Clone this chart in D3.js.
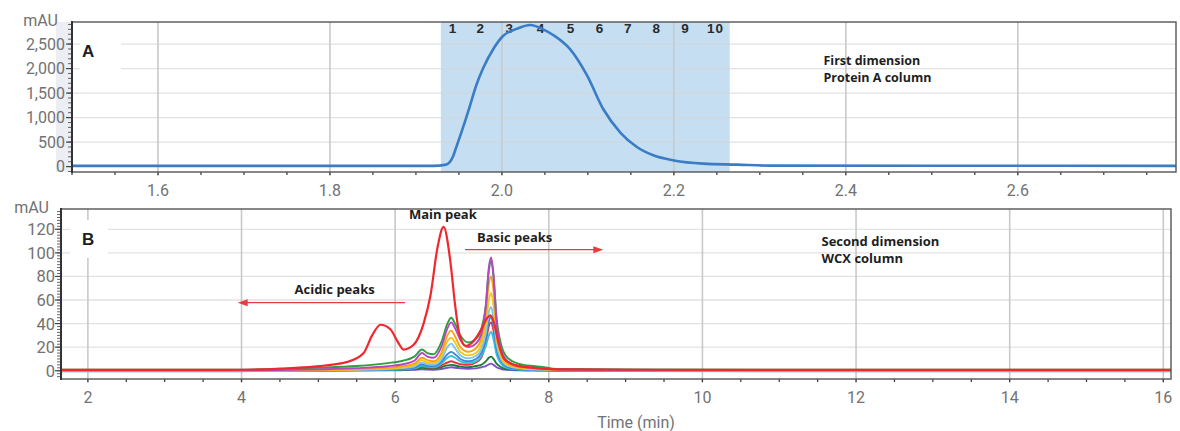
<!DOCTYPE html>
<html>
<head>
<meta charset="utf-8">
<script src="https://cdn.jsdelivr.net/npm/d3@7"></script>
<style>
  body { margin: 0; background: #fff; }
  svg { display: block; }
</style>
</head>
<body>
<div id="chart"></div>
<script>
// ---- Panel A: first dimension (Protein A) ----
const timesA = [1.50, 1.92, 1.935, 1.943, 1.947, 1.955, 1.963, 1.970, 1.978, 1.99, 2.001, 2.017, 2.033, 2.048, 2.06, 2.079, 2.099, 2.118, 2.138, 2.157, 2.176, 2.2, 2.234, 2.274, 2.31, 2.5, 2.784];
const valuesA = [15, 15, 40, 200, 400, 810, 1250, 1650, 2000, 2400, 2660, 2810, 2890, 2800, 2680, 2400, 1860, 1170, 690, 400, 230, 125, 60, 40, 20, 18, 15];
const fractionBand = [1.929, 2.265];
const fractionLabels = ["1", "2", "3", "4", "5", "6", "7", "8", "9", "10"];
const fractionTimes = [1.943, 1.9755, 2.009, 2.0455, 2.0805, 2.114, 2.147, 2.18, 2.2135, 2.2485];
const xTicksA = [1.6, 1.8, 2.0, 2.2, 2.4, 2.6];
const yTicksA = [0, 500, 1000, 1500, 2000, 2500];

// ---- Panel B: second dimension (WCX) ----
const timesMain = [1.65, 3.8, 4.3, 4.5, 4.94, 5.38, 5.59, 5.7, 5.81, 5.94, 6.03, 6.11, 6.24, 6.37, 6.46, 6.55, 6.63, 6.72, 6.78, 6.84, 6.92, 7.02, 7.12, 7.2, 7.24, 7.29, 7.35, 7.42, 7.55, 7.8, 8.1, 10, 16.1];
const valuesMain = [0.8, 0.8, 1.2, 1.8, 3.5, 7.5, 15, 30, 39, 35, 25, 18, 22, 40, 64, 104, 122, 92, 56, 30, 21, 25, 35, 45, 47, 40, 22, 10, 5, 2.5, 1.2, 0.8, 0.8];

const timesB = [1.65, 3.8, 4.5, 5.0, 5.5, 5.9, 6.1, 6.25, 6.35, 6.42, 6.5, 6.6, 6.68, 6.73, 6.78, 6.85, 6.95, 7.05, 7.12, 7.18, 7.22, 7.25, 7.28, 7.32, 7.38, 7.45, 7.6, 7.8, 7.9, 8.1, 9.0, 16.1];
const purple    = [0, 0, 0, 0.1, 0.2, 0.3, 0.5, 0.7, 1.2, 1, 0.9, 1.5, 2.5, 3, 2.5, 2, 1.7, 2, 3, 4, 5.5, 6, 5, 3, 1.5, 0.8, 0.4, 0.2, 0.2, 0.1, 0, 0];
const darkGreen = [0.3, 0.3, 0.3, 0.4, 0.5, 0.7, 1, 1.4, 2.5, 2, 1.8, 3, 4.5, 5, 4.5, 3.5, 3, 4, 5, 8, 11, 12, 10, 6, 3, 1.5, 0.8, 0.5, 0.4, 0.3, 0.3, 0.3];
const red2      = [0.6, 0.6, 0.7, 0.8, 1, 1.2, 1.6, 2.2, 3.5, 3, 2.8, 4.5, 7, 8, 7, 5.5, 5, 7, 11, 24, 38, 41, 34, 17, 7, 3, 1.5, 1, 0.8, 0.6, 0.6, 0.6];
const cyan      = [-0.3, -0.3, 0, 0.2, 0.4, 0.8, 1.2, 2, 4.2, 3.3, 3, 6, 11, 12.5, 11, 8, 6.5, 8, 12, 21, 30, 33, 27, 14, 6, 2.5, 1, 0.5, 0.4, 0.1, -0.2, -0.3];
const blue      = [-0.5, -0.5, 0, 0.2, 0.5, 1, 1.6, 2.6, 5.5, 4.2, 4, 7.5, 14, 16, 14, 10, 8, 10, 15, 28, 42, 46, 38, 19, 8, 3.5, 1.5, 0.8, 0.6, 0.2, -0.3, -0.5];
const lightBlue = [0, 0, 0.2, 0.4, 0.8, 1.5, 2.2, 3.6, 7, 5.5, 5, 9.5, 20, 23, 19, 13, 10.5, 12.5, 18, 32, 50, 54, 45, 23, 9.5, 4.5, 2, 1.2, 1, 0.5, 0.3, 0.2];
const yellow    = [0.1, 0.1, 0.3, 0.6, 1.1, 2, 3, 4.8, 9, 7, 6.5, 12, 25, 28, 24, 16, 13, 15, 22, 40, 60, 66, 56, 28, 12, 5.5, 2.5, 1.5, 1.2, 0.6, 0.4, 0.3];
const orange    = [0.2, 0.2, 0.4, 0.8, 1.5, 2.6, 3.8, 6, 11, 9, 8, 15, 30, 34, 29, 20, 16, 19, 27, 48, 74, 80, 68, 35, 15, 7, 3, 2, 1.5, 0.8, 0.5, 0.4];
const green     = [0.8, 0.8, 1.5, 2.5, 4, 6.5, 8.5, 12, 18, 15, 14, 24, 40, 45, 40, 30, 24, 27, 35, 55, 85, 93, 80, 45, 22, 12, 6, 4, 3.5, 1.5, 1, 0.8];
const magenta   = [0.3, 0.3, 0.6, 1.2, 2.2, 3.8, 5.5, 8.5, 15, 12, 11, 20, 36, 41, 36, 26, 20, 23, 31, 55, 88, 96, 82, 42, 18, 9, 4, 2.5, 2, 1, 0.6, 0.5];
const fractionSeries = [purple, darkGreen, red2, cyan, blue, lightBlue, yellow, orange, green, magenta];
const fractionColors = ["#7b52c9", "#1f7a3a", "#e8323c", "#32c0dc", "#3f86d8", "#7cc6ee", "#f2c81e", "#f7a21b", "#2e9e3e", "#b447c4"];
const xTicksB = [2, 4, 6, 8, 10, 12, 14, 16];
const yTicksB = [0, 20, 40, 60, 80, 100, 120];

const svg = d3.select("#chart").append("svg").attr("width", 1180).attr("height", 431);

const xA = d3.scaleLinear().domain([1.5, 2.784]).range([72, 1176]);
const yA = d3.scaleLinear().domain([-110, 2950]).range([172, 22]);
const xB = d3.scaleLinear().domain([1.65, 16.1]).range([61, 1171]);
const yB = d3.scaleLinear().domain([-7, 137.2]).range([379, 209]);

const tickFont = "Roboto, 'Liberation Sans', sans-serif";
const noteFont = "'Open Sans', 'Liberation Sans', sans-serif";

// background parts of a panel: band, grid, label box
function drawBack(x, y, xTicks, yTicks, opts) {
  const [l, r] = x.range(), [b, t] = y.range();
  const g = svg.append("g");
  if (opts.strip) {
    g.append("rect").attr("x", l - 16).attr("y", t).attr("width", 16).attr("height", b - t).attr("fill", "#eceef3");
  }
  if (opts.band) {
    g.append("rect")
      .attr("x", x(opts.band[0])).attr("y", t)
      .attr("width", x(opts.band[1]) - x(opts.band[0])).attr("height", b - t)
      .attr("fill", "#c5def2");
  }
  g.selectAll(".hg").data(yTicks.filter(d => d > 0)).join("line")
    .attr("x1", l).attr("x2", r).attr("y1", d => y(d)).attr("y2", d => y(d))
    .attr("stroke", "#d6d6d6").attr("stroke-opacity", 0.7).attr("stroke-width", 1.3);
  g.selectAll(".vg").data(xTicks).join("line")
    .attr("x1", d => x(d)).attr("x2", d => x(d)).attr("y1", t).attr("y2", b + 4)
    .attr("stroke", "#c9c9c9").attr("stroke-width", 1.6);
  g.append("rect").attr("x", opts.box[0]).attr("y", opts.box[1])
    .attr("width", opts.box[2]).attr("height", opts.box[3]).attr("fill", "#fff");
  return g;
}

// axes, frame and tick labels
function drawAxes(x, y, xTicks, yTicks, opts) {
  const [l, r] = x.range(), [b, t] = y.range();
  const g = svg.append("g");
  const xd = x.domain(), yd = y.domain();
  const minorX = d3.range(Math.ceil(xd[0] / opts.xMinor) * opts.xMinor, xd[1], opts.xMinor);
  g.selectAll(".mx").data(minorX).join("line")
    .attr("x1", d => x(d)).attr("x2", d => x(d)).attr("y1", b).attr("y2", b + 3)
    .attr("stroke", "#333").attr("stroke-width", 1.2);
  const minorY = d3.range(Math.ceil(yd[0] / opts.yMinor) * opts.yMinor, yd[1], opts.yMinor);
  g.selectAll(".my").data(minorY).join("line")
    .attr("x1", l - 4).attr("x2", l).attr("y1", d => y(d)).attr("y2", d => y(d))
    .attr("stroke", "#555").attr("stroke-width", 0.9);
  g.selectAll(".My").data(yTicks).join("line")
    .attr("x1", l - 6).attr("x2", l).attr("y1", d => y(d)).attr("y2", d => y(d))
    .attr("stroke", "#444").attr("stroke-width", 1.2);
  g.append("rect").attr("x", l).attr("y", t).attr("width", r - l).attr("height", b - t)
    .attr("fill", "none").attr("stroke", "#555").attr("stroke-width", 1.4);
  g.append("line").attr("x1", l).attr("x2", l).attr("y1", t - 1).attr("y2", b + 1)
    .attr("stroke", "#333").attr("stroke-width", 2);

  g.selectAll(".yl").data(yTicks).join("text")
    .attr("x", l - opts.yGap).attr("y", d => y(d)).attr("dy", "0.36em")
    .attr("text-anchor", "end").attr("font-family", tickFont).attr("font-size", opts.yFont)
    .attr("fill", "#727272").text(d => d3.format(",")(d));
  g.append("text").attr("x", opts.unit[0]).attr("y", opts.unit[1]).attr("dy", "0.36em")
    .attr("text-anchor", "end").attr("font-family", tickFont).attr("font-size", 16)
    .attr("fill", "#727272").text("mAU");
  g.selectAll(".xl").data(xTicks).join("text")
    .attr("x", d => x(d)).attr("y", opts.xLabelY).attr("text-anchor", "middle")
    .attr("font-family", tickFont).attr("font-size", 16).attr("fill", "#727272")
    .text(d => opts.xFmt(d));
  g.append("text").attr("x", opts.letter[0]).attr("y", opts.letter[1])
    .attr("font-family", "'Liberation Sans', Arial, sans-serif").attr("font-weight", "bold")
    .attr("font-size", 17).attr("fill", "#1e1e1e").text(opts.letter[2]);
}

function note(x, y, lines, size) {
  const t = svg.append("text").attr("font-family", noteFont).attr("font-weight", 700)
    .attr("font-size", size || 13).attr("fill", "#1e1e1e");
  lines.forEach((s, i) => t.append("tspan").attr("x", x).attr("y", y + i * 17).text(s));
}

function arrow(x1, x2, y) {
  const dir = Math.sign(x2 - x1);
  svg.append("line").attr("x1", x1).attr("x2", x2 - dir * 8).attr("y1", y).attr("y2", y)
    .attr("stroke", "#ea3a3f").attr("stroke-width", 1.3);
  svg.append("path")
    .attr("d", `M${x2},${y} L${x2 - dir * 10},${y - 3.5} L${x2 - dir * 10},${y + 3.5} Z`)
    .attr("fill", "#ea3a3f");
}

// ---------- Panel A ----------
drawBack(xA, yA, xTicksA, yTicksA, { strip: true, band: fractionBand, box: [80, 38, 41, 40] });

svg.selectAll(".frac").data(fractionLabels).join("text")
  .attr("x", (d, i) => xA(fractionTimes[i])).attr("y", 33).attr("text-anchor", "middle")
  .attr("font-family", "'Liberation Sans', Arial, sans-serif").attr("font-weight", "bold")
  .attr("font-size", 13.5).attr("letter-spacing", 1).attr("fill", "#2a2a2a").text(d => d);

const lineA = d3.line().x(d => xA(d[0])).y(d => yA(d[1])).curve(d3.curveMonotoneX);
svg.append("path").datum(d3.zip(timesA, valuesA)).attr("d", lineA)
  .attr("fill", "none").attr("stroke", "#3a7cc6").attr("stroke-width", 2.6);

drawAxes(xA, yA, xTicksA, yTicksA, {
  xMinor: 0.05, yMinor: 100, yGap: 7, yFont: 16, unit: [58, 20], xLabelY: 196,
  xFmt: d3.format(".1f"), letter: [82, 57, "A"]
});
note(xA(2.374), 65, ["First dimension", "Protein A column"], 12.5);

// ---------- Panel B ----------
drawBack(xB, yB, xTicksB, yTicksB, { strip: false, box: [70, 220, 38, 38] });

svg.append("clipPath").attr("id", "clipB").append("rect")
  .attr("x", 61).attr("y", 209).attr("width", 1110).attr("height", 170);
const gB = svg.append("g").attr("clip-path", "url(#clipB)");
const lineB = d3.line().x(d => xB(d[0])).y(d => yB(d[1])).curve(d3.curveMonotoneX);
fractionSeries.forEach((vals, i) => {
  gB.append("path").datum(d3.zip(timesB, vals)).attr("d", lineB)
    .attr("fill", "none").attr("stroke", fractionColors[i]).attr("stroke-width", 1.9);
});
gB.append("path").datum(d3.zip(timesMain, valuesMain)).attr("d", lineB)
  .attr("fill", "none").attr("stroke", "#f0282d").attr("stroke-width", 2.2);

drawAxes(xB, yB, xTicksB, yTicksB, {
  xMinor: 0.5, yMinor: 2.5, yGap: 6, yFont: 16.5, unit: [49, 207], xLabelY: 403,
  xFmt: d3.format("d"), letter: [82, 245, "B"]
});

svg.append("text").attr("x", 636).attr("y", 428).attr("text-anchor", "middle")
  .attr("font-family", tickFont).attr("font-size", 16).attr("fill", "#727272").text("Time (min)");

note(xB(6.18), 219, ["Main peak"], 13);
note(xB(7.065), 242, ["Basic peaks"], 13);
note(xB(4.69), 294, ["Acidic peaks"], 13);
note(xB(11.55), 246, ["Second dimension", "WCX column"], 13);
arrow(xB(6.91), xB(8.71), yB(102.7));
arrow(xB(6.13), xB(3.95), yB(57.7));
</script>
</body>
</html>
